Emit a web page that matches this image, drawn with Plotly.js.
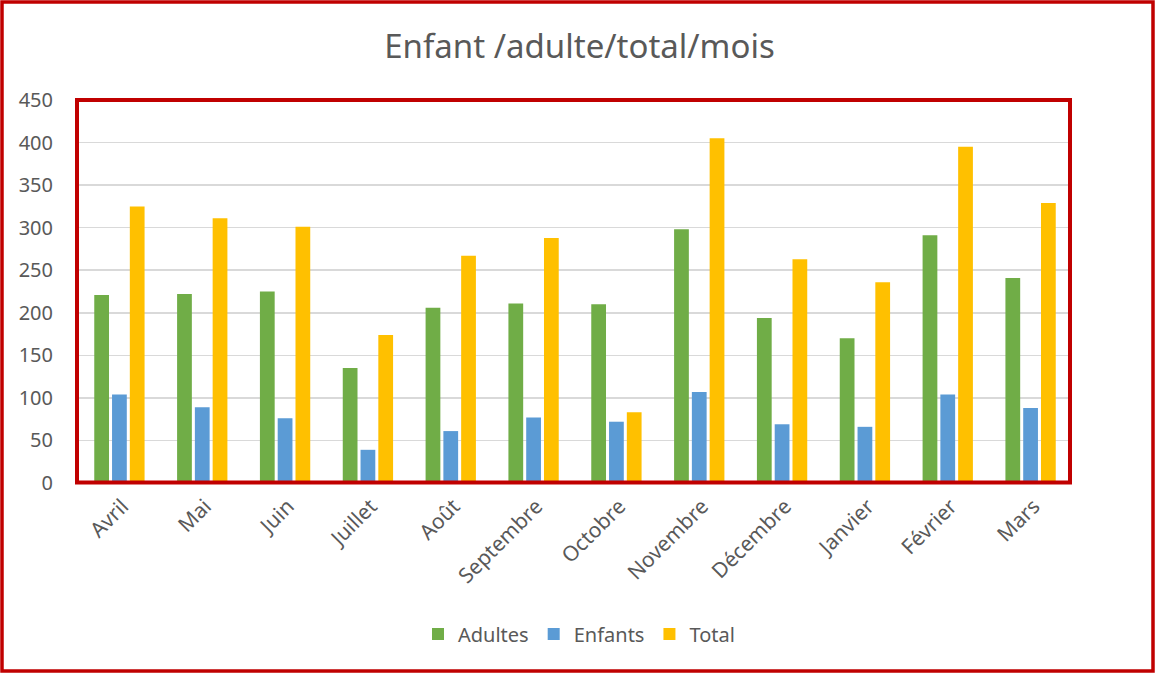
<!DOCTYPE html>
<html>
<head>
<meta charset="utf-8">
<script src="https://cdn.plot.ly/plotly-3.0.1.min.js"></script>
<style>html,body{margin:0;padding:0;background:#fff;}#chart{width:1159px;height:673px;}</style>
</head>
<body>
<div id="chart"></div>
<script>
const months = ["Avril","Mai","Juin","Juillet","Août","Septembre","Octobre","Novembre","Décembre","Janvier","Février","Mars"];
const adultes = [221, 222, 225, 135, 206, 211, 210, 298, 194, 170, 291, 241];
const enfants = [104, 89, 76, 39, 61, 77, 72, 107, 69, 66, 104, 88];
const total = [325, 311, 301, 174, 267, 288, 83, 405, 263, 236, 395, 329];
const yTicks = [0, 50, 100, 150, 200, 250, 300, 350, 400, 450];

const W = 1159, H = 673;
const m = {l: 78, r: 87, t: 100, b: 190};
const pw = W - m.l - m.r, ph = H - m.t - m.b;
const px = x => (x - m.l) / pw;
const py = y => (H - m.b - y) / ph;
const red = '#C00000';
const txt = '#595959';
const font = 'Noto Sans, sans-serif';

const traces = [
  {type: 'bar', name: 'Adultes', x: months, y: adultes, marker: {color: '#70AD47'}},
  {type: 'bar', name: 'Enfants', x: months, y: enfants, marker: {color: '#5B9BD5'}},
  {type: 'bar', name: 'Total', x: months, y: total, marker: {color: '#FFC000'}}
];

const layout = {
  width: W, height: H,
  margin: m,
  paper_bgcolor: '#fff', plot_bgcolor: '#fff',
  font: {family: font, color: txt, size: 20},
  title: {text: 'Enfant /adulte/total/mois', font: {family: font, size: 33, color: txt},
          x: 0.5, xref: 'container', y: 1 - 46 / H, yref: 'container', yanchor: 'middle', xanchor: 'center'},
  barmode: 'group', bargap: 0.356, bargroupgap: 0.17,
  xaxis: {tickangle: -45, showgrid: false, zeroline: false, showline: false, ticks: '',
          tickfont: {family: font, size: 21, color: txt}, ticklabelstandoff: 6, ticklabelshift: 3},
  yaxis: {range: [0, 450], tickvals: yTicks, ticktext: yTicks.map(String),
          showgrid: true, gridcolor: '#D9D9D9', gridwidth: 1.5, zeroline: false, showline: false,
          ticks: 'outside', ticklen: 2, tickcolor: 'rgba(0,0,0,0)',
          tickfont: {family: font, size: 20, color: txt}, ticklabelstandoff: 18},
  legend: {orientation: 'h', x: px(579), xanchor: 'center', y: py(634), yanchor: 'middle',
           font: {family: font, size: 20, color: txt}, itemwidth: 30, traceorder: 'normal'},
  shapes: [
    {type: 'rect', xref: 'paper', yref: 'paper', x0: px(77), x1: px(1070), y0: py(482.5), y1: py(100),
     line: {color: red, width: 4}, fillcolor: 'rgba(0,0,0,0)', layer: 'above'},
    {type: 'rect', xref: 'paper', yref: 'paper', x0: px(2), x1: px(1153), y0: py(671), y1: py(2),
     line: {color: red, width: 3.5}, fillcolor: 'rgba(0,0,0,0)', layer: 'above'}
  ]
};

Plotly.newPlot('chart', traces, layout, {displayModeBar: false, staticPlot: true});
</script>
</body>
</html>
